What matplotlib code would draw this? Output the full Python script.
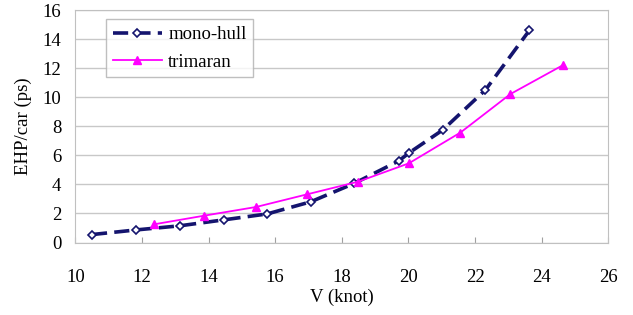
import matplotlib
matplotlib.use('Agg')
import matplotlib.pyplot as plt

# speed (knot) and EHP per car (ps)
mono_v = [10.5, 11.83, 13.13, 14.45, 15.76, 17.06, 18.38, 19.71, 20.03, 21.03, 22.31, 23.63]
mono_ehp = [0.55, 0.87, 1.15, 1.56, 1.97, 2.8, 4.08, 5.62, 6.19, 7.75, 10.5, 14.6]
tri_v = [12.35, 13.87, 15.43, 16.96, 18.49, 20.01, 21.56, 23.06, 24.63]
tri_ehp = [1.25, 1.85, 2.45, 3.32, 4.19, 5.45, 7.57, 10.22, 12.2]

x_ticks = [10, 12, 14, 16, 18, 20, 22, 24, 26]
y_ticks = [0, 2, 4, 6, 8, 10, 12, 14, 16]

plt.rcParams['font.family'] = ['Liberation Serif', 'DejaVu Serif']

fig = plt.figure(figsize=(6.33, 3.15), dpi=100)
ax = fig.add_axes([0.119, 0.23, 0.842, 0.738])

ax.plot(mono_v, mono_ehp, color='#14146e', lw=2.6, dashes=(4.2, 2),
        marker='D', ms=4.5, mfc='white', mec='#14146e', mew=1.2, label='mono-hull')
ax.plot(tri_v, tri_ehp, color='#ff00ff', lw=1.3,
        marker='^', ms=6, mfc='#ff00ff', mec='#ff00ff', label='trimaran')

ax.set_xlim(10, 26)
ax.set_ylim(0, 16)
ax.set_xticks(x_ticks)
ax.set_yticks(y_ticks)
ax.yaxis.grid(True, color='#c8c8c8', lw=1)
ax.set_axisbelow(True)
for s in ax.spines.values():
    s.set_color('#c0c0c0')
ax.tick_params(axis='x', direction='in', length=4, color='#a0a0a0', labelsize=13.5, pad=19)
ax.tick_params(axis='y', length=0, labelsize=13.5, pad=10)

ax.set_xlabel('V (knot)', fontsize=13.5, labelpad=2)
ax.set_ylabel('EHP/car (ps)', fontsize=13.5, labelpad=8)

leg = ax.legend(loc='upper left', bbox_to_anchor=(0.058, 0.96), fontsize=13.5, frameon=True,
                fancybox=False, edgecolor='#b0b0b0', handlelength=2.6, borderpad=0.35,
                labelspacing=0.55, handletextpad=0.35, borderaxespad=0)
leg.get_frame().set_linewidth(1)

plt.savefig('out.png', dpi=100)
